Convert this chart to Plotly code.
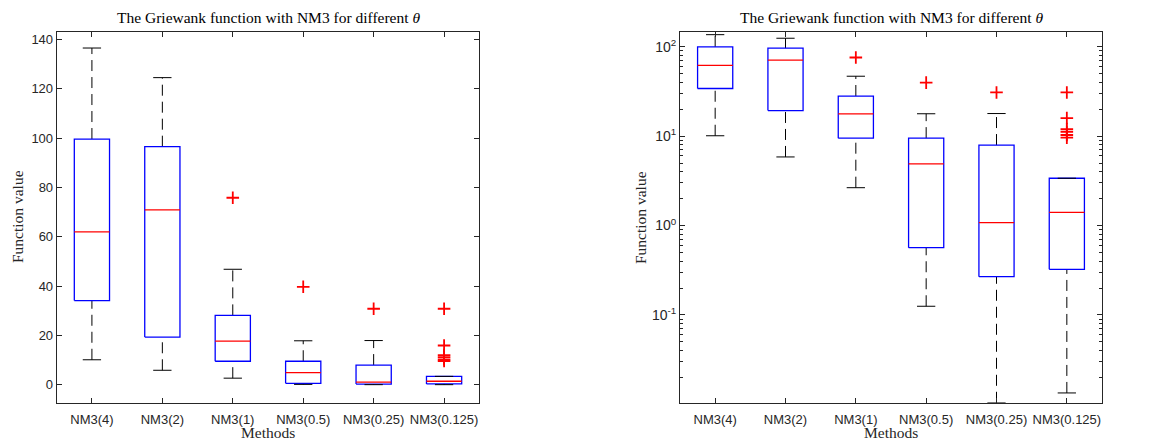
import plotly.graph_objects as go

methods = ["NM3(4)", "NM3(2)", "NM3(1)", "NM3(0.5)", "NM3(0.25)", "NM3(0.125)"]
lower_whisker = [10.1, 5.85, 2.65, 0.125, 0.0104, 0.0134]
q1 = [34.1, 19.3, 9.5, 0.565, 0.268, 0.324]
median = [62.0, 70.9, 17.7, 4.9, 1.08, 1.4]
q3 = [99.6, 96.5, 28.1, 9.5, 7.95, 3.38]
upper_whisker = [136.5, 124.5, 46.8, 17.8, 17.9, 3.38]
outliers = [[], [], [75.8], [39.7], [30.8], [30.8, 15.9, 12.0, 11.2, 10.3, 9.6]]

AX = "#262626"
TICKFONT = dict(family="Liberation Sans, Arial", size=13, color=AX)
SERIF = "Liberation Serif, Times New Roman, serif"
BW = 0.25   # half box width
CW = 0.13   # half cap width

fig = go.Figure()

def add_boxes(xa, ya):
    wx, wy, bx, by, mx, my, cx, cy, ox, oy = [], [], [], [], [], [], [], [], [], []
    for i in range(len(methods)):
        c = i + 1
        wx += [c, c, None, c, c, None]
        wy += [q3[i], upper_whisker[i], None, lower_whisker[i], q1[i], None]
        bx += [c - BW, c + BW, c + BW, c - BW, c - BW, None]
        by += [q1[i], q1[i], q3[i], q3[i], q1[i], None]
        mx += [c - BW, c + BW, None]
        my += [median[i], median[i], None]
        cx += [c - CW, c + CW, None, c - CW, c + CW, None]
        cy += [upper_whisker[i], upper_whisker[i], None, lower_whisker[i], lower_whisker[i], None]
        for o in outliers[i]:
            ox.append(c)
            oy.append(o)
    common = dict(xaxis=xa, yaxis=ya, showlegend=False, hoverinfo="skip")
    fig.add_trace(go.Scatter(x=wx, y=wy, mode="lines",
                             line=dict(color="black", width=1, dash="11px,6px"), **common))
    fig.add_trace(go.Scatter(x=bx, y=by, mode="lines",
                             line=dict(color="#0000FF", width=1.3), **common))
    fig.add_trace(go.Scatter(x=cx, y=cy, mode="lines",
                             line=dict(color="black", width=1), **common))
    fig.add_trace(go.Scatter(x=mx, y=my, mode="lines",
                             line=dict(color="#FF0000", width=1.3), **common))
    fig.add_trace(go.Scatter(x=ox, y=oy, mode="markers",
                             marker=dict(symbol="cross-thin-open", size=9, color="#FF0000",
                                         line=dict(color="#FF0000", width=1.8)), **common))

add_boxes("x", "y")
add_boxes("x2", "y2")

xcommon = dict(range=[0.5, 6.5], tickmode="array", tickvals=list(range(1, len(methods) + 1)),
               ticktext=methods, ticks="inside", ticklen=5, tickcolor=AX, showline=True,
               linecolor=AX, linewidth=1, mirror="ticks", showgrid=False, zeroline=False,
               tickfont=TICKFONT, ticklabelstandoff=5)

minor_vals = [m * 10 ** e for e in range(-2, 3) for m in range(2, 10)]

fig.update_layout(
    width=1162, height=443,
    margin=dict(l=0, r=0, t=0, b=0),
    plot_bgcolor="white", paper_bgcolor="white",
    xaxis=dict(domain=[56.7 / 1162, 479.3 / 1162], anchor="y", **xcommon),
    xaxis2=dict(domain=[680 / 1162, 1102 / 1162], anchor="y2", **xcommon),
    yaxis=dict(domain=[1 - 402.7 / 443, 1 - 32 / 443], anchor="x", range=[-7.3, 143],
               tickmode="array", tickvals=[0, 20, 40, 60, 80, 100, 120, 140],
               ticks="inside", ticklen=5, tickcolor=AX, showline=True, linecolor=AX,
               linewidth=1, mirror="ticks", showgrid=False, zeroline=False, tickfont=TICKFONT),
    yaxis2=dict(domain=[1 - 402.7 / 443, 1 - 32 / 443], anchor="x2", type="log",
                range=[-1.982, 2.165], tickmode="array", tickvals=[0.1, 1, 10, 100],
                ticktext=["10<sup>-1</sup>", "10<sup>0</sup>", "10<sup>1</sup>", "10<sup>2</sup>"],
                ticks="inside", ticklen=5, tickcolor=AX, showline=True, linecolor=AX,
                linewidth=1, mirror="ticks", showgrid=False, zeroline=False,
                tickfont=dict(family="Liberation Sans, Arial", size=14, color=AX),
                minor=dict(tickmode="array", tickvals=minor_vals, ticks="inside", ticklen=3,
                           tickcolor=AX, showgrid=False)),
)

title_txt = "The Griewank function with NM3 for different <i>θ</i>"
tfont = dict(family=SERIF, size=15.5, color="black")
lfont = dict(family=SERIF, size=15.5, color="#262626")
for cx_px in [268, 891]:
    fig.add_annotation(text=title_txt, x=cx_px / 1162, y=1 - 18 / 443, xref="paper", yref="paper",
                       showarrow=False, font=tfont, xanchor="center", yanchor="middle")
    fig.add_annotation(text="Methods", x=cx_px / 1162, y=0, xref="paper", yref="paper",
                       showarrow=False, font=lfont, xanchor="center", yanchor="bottom")
for lx in [17, 640]:
    fig.add_annotation(text="Function value", x=lx / 1162, y=1 - 217 / 443, xref="paper",
                       yref="paper", showarrow=False, font=lfont, textangle=-90,
                       xanchor="center", yanchor="middle")

fig.write_html("out.html")
